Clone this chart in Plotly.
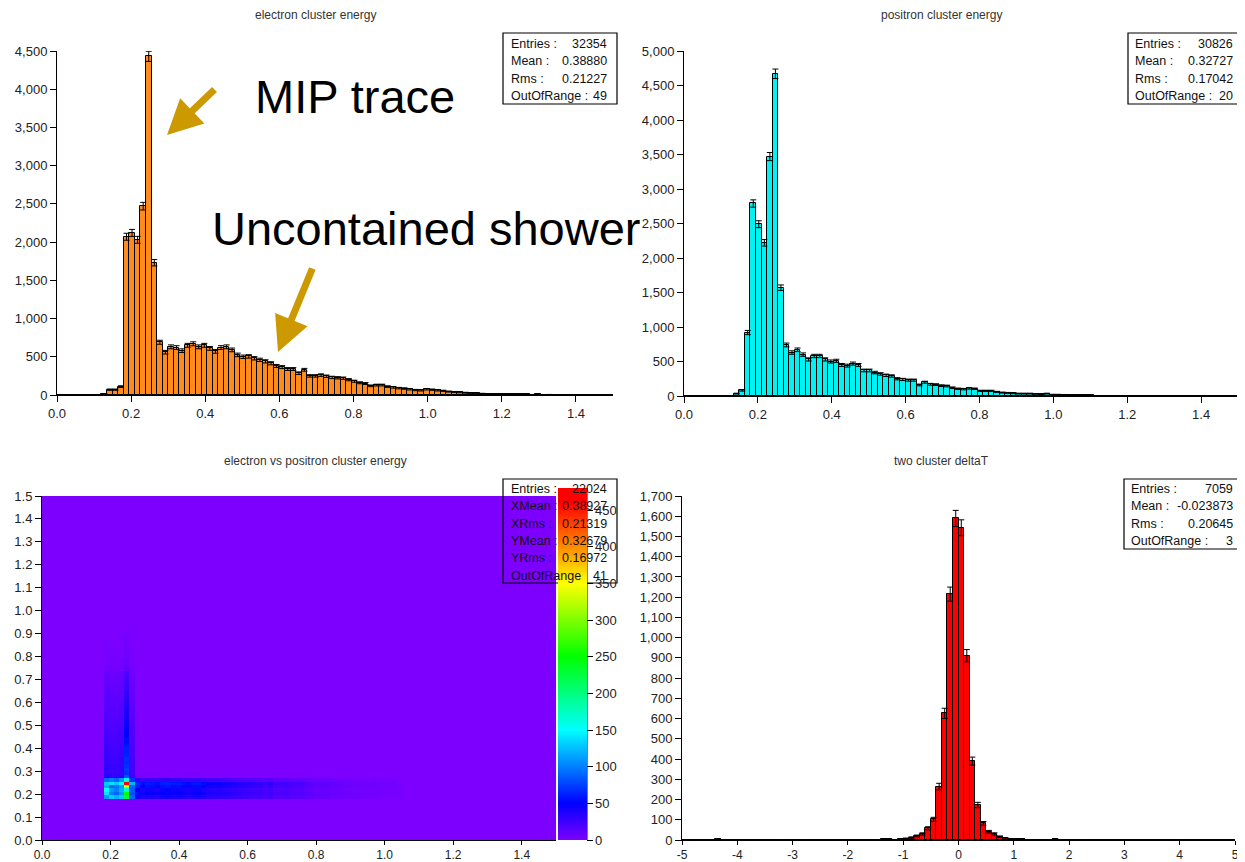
import plotly.graph_objects as go

# page body has an 8px margin: the figure is sized so it fills the window exactly
OFF = 8
W, H = 1245 - OFF, 862 - OFF

# ---------------- data ----------------
energy_bin_width = 0.015
energy_bin_edges_start = 0.0

electron_counts = [
    0, 0, 0, 0, 0, 0, 0, 0, 15, 70,
    70, 110, 2070, 2120, 2030, 2470, 4430, 1730, 690, 560,
    630, 620, 580, 650, 670, 630, 650, 610, 570, 620,
    630, 590, 525, 500, 505, 480, 460, 440, 415, 380,
    365, 340, 340, 285, 330, 250, 250, 260, 245, 230,
    225, 220, 200, 180, 160, 150, 120, 130, 130, 110,
    100, 90, 85, 75, 65, 60, 75, 70, 60, 55,
    45, 40, 35, 30, 22, 20, 18, 15, 12, 15,
    10, 12, 10, 8, 10, 5, 8, 3, 5, 0,
    0, 0, 0, 0, 0, 0, 0, 0, 0, 0]

positron_counts = [
    0, 0, 0, 0, 0, 0, 0, 0, 5, 35,
    80, 920, 2790, 2490, 2220, 3470, 4670, 1570, 740, 630,
    670, 600, 530, 580, 580, 530, 500, 510, 450, 440,
    470, 450, 370, 370, 340, 320, 300, 290, 250, 240,
    230, 230, 160, 200, 170, 165, 150, 145, 120, 105,
    100, 110, 105, 75, 75, 75, 60, 50, 45, 40,
    35, 35, 35, 30, 25, 35, 20, 20, 18, 15,
    12, 15, 10, 8, 5, 5, 4, 3, 2, 2,
    2, 2, 2, 2, 2, 2, 2, 2, 2, 2,
    2, 0, 0, 0, 0, 0, 0, 0, 0, 0]

dt_bin_width = 0.1
dt_start = -5.0
deltaT_counts = [
    0, 0, 0, 0, 0, 0, 3, 0, 0, 0,
    0, 0, 0, 0, 0, 0, 0, 0, 0, 0,
    0, 0, 0, 0, 0, 0, 0, 0, 0, 0,
    0, 0, 0, 0, 0, 0, 3, 3, 0, 3,
    7, 12, 20, 30, 58, 102, 264, 626, 1215, 1589,
    1543, 911, 390, 173, 82, 41, 30, 16, 8, 3,
    5, 5, 0, 0, 0, 0, 0, 4, 0, 0,
    0, 0, 0, 0, 0, 0, 0, 0, 0, 0,
    0, 0, 0, 0, 0, 0, 0, 0, 0, 0,
    0, 0, 0, 0, 0, 0, 0, 0, 0, 0]

# 2D histogram (electron x, positron y), 100 x 100 bins of 0.015
cluster_first_bin = 12
cluster_cells = [            # rows y bins 12..17 (bottom->top), cols x bins 12..17
    [110, 130, 120, 130, 230, 90],
    [140, 100, 90, 110, 250, 80],
    [150, 110, 100, 120, 170, 85],
    [120, 90, 95, 110, 330, 90],
    [130, 140, 130, 150, 470, 120],
    [90, 100, 90, 110, 160, 70],
]
hband_first_xbin = 18
hband_x_profile = [55, 45, 50, 48, 45, 50, 52, 48, 50, 47, 44, 48, 48, 45, 40, 38, 39, 37,
                   35, 33, 31, 29, 28, 26, 26, 22, 25, 19, 19, 20, 18, 17, 17, 14, 12, 10,
                   10, 10, 8, 8, 7, 6, 6, 5, 5, 4, 5, 4, 3, 3, 3, 2]
hband_row_weights = [0.8, 1.0, 0.9, 1.1, 1.2, 0.6]
vband_first_ybin = 18
vband_y_profile = [45, 38, 40, 38, 36, 37, 35, 34, 34, 32, 30, 30, 28, 27, 26, 25, 24, 23,
                   22, 21, 20, 19, 18, 17, 16, 15, 14, 13, 12, 11, 10, 6, 5, 4, 4, 3, 3, 3,
                   2, 2, 2, 1, 1]
vband_col_weights = [0.8, 0.7, 0.7, 0.8, 1.8, 0.6]

electron_stats = [("Entries :", "32354"), ("Mean :", "0.38880"), ("Rms :", "0.21227"), ("OutOfRange :", "49")]
positron_stats = [("Entries :", "30826"), ("Mean :", "0.32727"), ("Rms :", "0.17042"), ("OutOfRange :", "20")]
twod_stats = [("Entries :", "22024"), ("XMean :", "0.38927"), ("XRms :", "0.21319"),
              ("YMean :", "0.32679"), ("YRms :", "0.16972"), ("OutOfRange", "41")]
dt_stats = [("Entries :", "7059"), ("Mean :", "-0.023873"), ("Rms :", "0.20645"), ("OutOfRange :", "3")]

titles = ["electron cluster energy", "positron cluster energy",
          "electron vs positron cluster energy", "two cluster deltaT"]

# ---------------- helpers (window pixel -> paper) ----------------
def px(x):
    return (x - OFF) / W


def py(y):
    return 1 - (y - OFF) / H


def centers(start, width, n):
    return [start + width * (i + 0.5) for i in range(n)]


def errs(counts):
    return [c ** 0.5 for c in counts]


FONT = "Liberation Sans, Arial, sans-serif"
fig = go.Figure()

e_x = centers(energy_bin_edges_start, energy_bin_width, len(electron_counts))
p_x = centers(energy_bin_edges_start, energy_bin_width, len(positron_counts))
d_x = centers(dt_start, dt_bin_width, len(deltaT_counts))


def hist(xs, counts, width, color, xa, ya):
    return go.Bar(x=xs, y=counts, width=width, xaxis=xa, yaxis=ya,
                  marker=dict(color=color, line=dict(color="black", width=1)),
                  error_y=dict(type="data", array=errs(counts), color="black",
                               thickness=1, width=3),
                  showlegend=False, hoverinfo="x+y")


fig.add_trace(hist(e_x, electron_counts, energy_bin_width, "#FF8A1E", "x", "y"))
fig.add_trace(hist(p_x, positron_counts, energy_bin_width, "#00F2F2", "x2", "y2"))
fig.add_trace(hist(d_x, deltaT_counts, dt_bin_width, "#FF0000", "x4", "y4"))

# 2D table
n2 = 100
z = [[0.0] * n2 for _ in range(n2)]
for j, w in enumerate(hband_row_weights):
    for k, v in enumerate(hband_x_profile):
        z[cluster_first_bin + j][hband_first_xbin + k] = round(v * w)
for c, w in enumerate(vband_col_weights):
    for k, v in enumerate(vband_y_profile):
        z[vband_first_ybin + k][cluster_first_bin + c] = round(v * w)
for j, row in enumerate(cluster_cells):
    for i, v in enumerate(row):
        z[cluster_first_bin + j][cluster_first_bin + i] = v

h_centers = centers(0.0, energy_bin_width, n2)
colorscale = [
    [0.0, "rgb(125,0,255)"],
    [50 / 480, "rgb(0,0,255)"],
    [150 / 480, "rgb(0,255,255)"],
    [250 / 480, "rgb(0,255,0)"],
    [350 / 480, "rgb(255,255,0)"],
    [460 / 480, "rgb(255,0,0)"],
    [1.0, "rgb(255,0,0)"],
]
fig.add_trace(go.Heatmap(
    x=h_centers, y=h_centers, z=z, xaxis="x3", yaxis="y3",
    zmin=0, zmax=480, colorscale=colorscale, zsmooth=False,
    colorbar=dict(x=px(558), xanchor="left", y=py(840), yanchor="bottom",
                  len=(840 - 488) / H, lenmode="fraction",
                  thickness=29, thicknessmode="pixels", xpad=0, ypad=0,
                  outlinewidth=0, tickvals=list(range(0, 451, 50)),
                  ticks="outside", ticklen=6, tickcolor="black",
                  tickfont=dict(size=13, color="#222", family=FONT)),
))

axis_common = dict(showline=True, linecolor="black", linewidth=1, ticks="outside",
                   ticklen=6, tickcolor="black", showgrid=False, zeroline=False,
                   automargin=False,
                   tickfont=dict(size=13, color="#222", family=FONT), fixedrange=True)
bottom_axis = dict(axis_common, ticklen=4, tickfont=dict(size=12, color="#222", family=FONT))

top_y = [py(395), py(51)]
bot_y = [py(840), py(496)]

fig.update_layout(
    width=W, height=H, margin=dict(l=0, r=0, t=0, b=0, autoexpand=False),
    paper_bgcolor="white", plot_bgcolor="white", bargap=0,
    font=dict(family=FONT),
    xaxis=dict(domain=[px(57), px(613)], range=[0, 1.5], anchor="y",
               tickvals=[0, 0.2, 0.4, 0.6, 0.8, 1.0, 1.2, 1.4], tickformat=".1f", **axis_common),
    yaxis=dict(domain=top_y, range=[0, 4500], anchor="x", dtick=500, tickformat=",", **axis_common),
    xaxis2=dict(domain=[px(684), px(1238)], range=[0, 1.5], anchor="y2",
                tickvals=[0, 0.2, 0.4, 0.6, 0.8, 1.0, 1.2, 1.4], tickformat=".1f", **axis_common),
    yaxis2=dict(domain=[py(396), py(51)], range=[0, 5000], anchor="x2", dtick=500, tickformat=",", **axis_common),
    xaxis3=dict(domain=[px(42), px(556)], range=[0, 1.5], anchor="y3",
                tickvals=[0, 0.2, 0.4, 0.6, 0.8, 1.0, 1.2, 1.4], tickformat=".1f", **bottom_axis),
    yaxis3=dict(domain=bot_y, range=[0, 1.5], anchor="x3", dtick=0.1, tickformat=".1f", **axis_common),
    xaxis4=dict(domain=[px(682), px(1235)], range=[-5, 5], anchor="y4",
                tickvals=list(range(-5, 6)), ticktext=[str(v) for v in range(-5, 6)], **bottom_axis),
    yaxis4=dict(domain=bot_y, range=[0, 1700], anchor="x4", dtick=100, tickformat=",", **axis_common),
)

annotations = []
shapes = []

# colorbar axis line
shapes.append(dict(type="line", xref="paper", yref="paper", x0=px(587), x1=px(587),
                   y0=py(840), y1=py(488), line=dict(color="black", width=1), layer="above"))

# titles
for (cx, cy), t in zip([(315, 15), (941, 15), (315, 461), (941, 461)], titles):
    annotations.append(dict(x=px(cx), y=py(cy), xref="paper", yref="paper", text=t,
                            showarrow=False, xanchor="center", yanchor="middle",
                            font=dict(size=12, color="#333", family=FONT)))


def stats_box(entries, x0, x1, y0, lx, rx, ry0, fill):
    shapes.append(dict(type="rect", xref="paper", yref="paper", x0=px(x0), x1=px(x1),
                       y0=py(y0[1]), y1=py(y0[0]), line=dict(color="black", width=1.2),
                       fillcolor=fill, layer="above"))
    for k, (lab, val) in enumerate(entries):
        yy = ry0 + 17.3 * k
        annotations.append(dict(x=px(lx), y=py(yy), xref="paper", yref="paper", text=lab,
                                showarrow=False, xanchor="left", yanchor="middle",
                                font=dict(size=12.5, color="#111", family=FONT)))
        annotations.append(dict(x=px(rx), y=py(yy), xref="paper", yref="paper", text=val,
                                showarrow=False, xanchor="right", yanchor="middle",
                                font=dict(size=12.5, color="#111", family=FONT)))


stats_box(electron_stats, 503, 617, (33, 104), 509, 609, 44, "white")
stats_box(positron_stats, 1128, 1241, (33, 104), 1133, 1235, 44, "white")
stats_box(twod_stats, 503, 617, (479, 583), 509, 609, 489, "rgba(0,0,0,0)")
stats_box(dt_stats, 1124, 1241, (479, 549), 1129, 1235, 489, "white")

# big labels and arrows
annotations.append(dict(x=px(253), y=py(96), xref="paper", yref="paper", text="MIP trace",
                        showarrow=False, xanchor="left", yanchor="middle",
                        font=dict(size=47, color="black", family=FONT)))
annotations.append(dict(x=px(210), y=py(229), xref="paper", yref="paper", text="Uncontained shower",
                        showarrow=False, xanchor="left", yanchor="middle",
                        font=dict(size=47, color="black", family=FONT)))
annotations.append(dict(x=px(167), y=py(135), xref="paper", yref="paper", text="",
                        showarrow=True, ax=49, ay=-47, arrowcolor="#CC9900", arrowwidth=7,
                        arrowhead=2, arrowsize=1, standoff=0, startstandoff=0))
annotations.append(dict(x=px(278), y=py(352), xref="paper", yref="paper", text="",
                        showarrow=True, ax=35, ay=-85, arrowcolor="#CC9900", arrowwidth=7,
                        arrowhead=2, arrowsize=1, standoff=0, startstandoff=0))

fig.update_layout(annotations=annotations, shapes=shapes)
fig.write_html("out.html")
